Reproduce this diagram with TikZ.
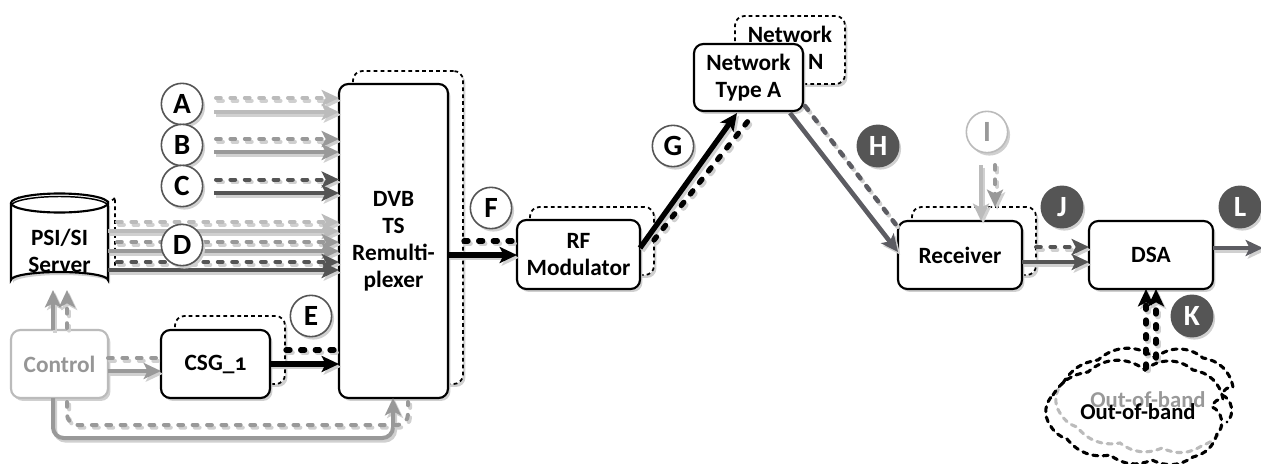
\documentclass[tikz,border=0pt]{standalone}
\usepackage{fontspec}
\setmainfont[Numbers=OldStyle]{Carlito}
\usetikzlibrary{arrows.meta,shadows,calc}
\definecolor{cA}{HTML}{BBBBBB}
\definecolor{cB}{HTML}{999999}
\definecolor{cC}{HTML}{555555}
\definecolor{cH}{HTML}{5C5C62}
\definecolor{shd}{HTML}{D0D0D0}
\tikzset{
  x=0.75pt,y=-0.75pt,
  txt/.style={font=\fontsize{17.5}{20.3}\selectfont\bfseries,align=center},
  sh/.style={copy shadow={shadow xshift=1.8pt,shadow yshift=-2.2pt,draw=none,fill=shd}},
  frontbox/.style={draw=black,line width=1.6pt,rounded corners=7pt,fill=white,sh,inner sep=0pt,outer sep=0pt,txt},
  backbox/.style={draw=black,line width=1.3pt,dash pattern=on 2.8pt off 2.4pt,rounded corners=7pt,fill=white,sh,inner sep=0pt,outer sep=0pt,txt},
  ctrlbox/.style={frontbox,draw=cA,text=cA!80!black},
  lab/.style={circle,draw=cC,line width=1.2pt,fill=white,minimum size=31pt,inner sep=0pt,sh,font=\fontsize{22}{22}\selectfont\bfseries},
  labdark/.style={lab,fill=cC,text=white},
  labgray/.style={lab,draw=cA,text=cB},
  tip/.style={-{Stealth[length=13pt,width=12pt,inset=3pt]}},
  sol/.style={line width=3pt,tip},
  das/.style={line width=3pt,tip,line cap=round,dash pattern=on 3.6pt off 7.2pt},
  dasn/.style={line width=3pt,line cap=round,dash pattern=on 3.6pt off 7.2pt},
  heavy/.style={line width=4pt},
  heavyd/.style={line width=4pt,line cap=round,dash pattern=on 3pt off 8pt},
  shad/.style={draw=shd,transform canvas={xshift=1.6pt,yshift=-2pt}}
}
\newcommand{\bx}[7]{\node[#6,minimum width={(#4-#2)*0.75pt},minimum height={(#5-#3)*0.75pt}] (#1) at ({(#2+#4)/2},{(#3+#5)/2}) {#7};}
\newcommand{\conn}[2]{\draw[#1,shad] #2; \draw[#1] #2;}
\begin{document}
\begin{tikzpicture}
\useasboundingbox (0,0) rectangle (1261,464);
\clip (0,0) rectangle (1261,464);
% back boxes
\bx{dvbb}{353}{71}{463}{384}{backbox}{}
\bx{csgb}{175}{316}{285}{384}{backbox}{}
\bx{rfb}{530}{207}{654}{275}{backbox}{}
\bx{netb}{735}{16}{845}{84}{backbox}{Network\\Type N}
\bx{recb}{912}{207}{1036}{275}{backbox}{}
% cylinder back
\draw[black,line width=1.3pt,dash pattern=on 2.8pt off 2.4pt]
  (18,197) arc[start angle=180,end angle=0,x radius=48.5,y radius=9.5] -- (115,272);
% cylinder front
\fill[shd] (13,206) -- (13,283) arc[start angle=180,end angle=360,x radius=48.5,y radius=8] -- (110,206) -- cycle;
\draw[black,line width=1.6pt,fill=white]
  (11,203) -- (11,280) arc[start angle=180,end angle=360,x radius=48.5,y radius=8] -- (108,203);
\draw[black,line width=1.6pt,fill=white] (59.5,203) ellipse[x radius=48.5,y radius=9.5];
\draw[black,line width=1.1pt] (11,206) arc[start angle=180,end angle=360,x radius=48.5,y radius=9.5];
\node[txt,minimum width=72.75pt,minimum height=52pt,inner sep=0pt,outer sep=0pt] (psi) at (59.5,251) {PSI/SI\\Server};
% front boxes
\bx{dvb}{339}{84}{448}{398}{frontbox}{DVB\\TS\\Remulti-\\plexer}
\bx{ctl}{11}{330}{108}{398}{ctrlbox}{Control}
\bx{csg}{161}{330}{270}{398}{frontbox}{CSG\_1}
\bx{rf}{517}{220}{640}{289}{frontbox}{RF\\Modulator}
\bx{neta}{694}{44}{803}{111}{frontbox}{Network\\Type A}
\bx{rec}{898}{221}{1022}{289}{frontbox}{Receiver}
\bx{dsa}{1089}{221}{1213}{289}{frontbox}{DSA}
% free ends
\coordinate (Ad) at (216,98); \coordinate (As) at (214,112);
\coordinate (Bd) at (216,139); \coordinate (Bs) at (214,152);
\coordinate (Cd) at (216,179.5); \coordinate (Cs) at (214,193);
\coordinate (Dad) at (117,222); \coordinate (Das) at (108,231);
\coordinate (Dbd) at (117,242); \coordinate (Dbs) at (108,251);
\coordinate (Dcd) at (117,262); \coordinate (Dcs) at (108,270);
\coordinate (Id) at (995,165); \coordinate (Is) at (981,165);
\coordinate (Lend) at (1263,248);
\coordinate (Kl) at (1146,368); \coordinate (Kr) at (1156,358);
% connectors
\conn{das,draw=cA}{(Ad) -- (Ad -| dvb.west)}
\conn{sol,draw=cA}{(As) -- (As -| dvb.west)}
\conn{das,draw=cB}{(Bd) -- (Bd -| dvb.west)}
\conn{sol,draw=cB}{(Bs) -- (Bs -| dvb.west)}
\conn{das,draw=cC}{(Cd) -- (Cd -| dvb.west)}
\conn{sol,draw=cC}{(Cs) -- (Cs -| dvb.west)}
\conn{das,draw=cA}{(Dad) -- (Dad -| dvb.west)}
\conn{sol,draw=cA}{(Das) -- (Das -| dvb.west)}
\conn{das,draw=cB}{(Dbd) -- (Dbd -| dvb.west)}
\conn{sol,draw=cB}{(Dbs) -- (Dbs -| dvb.west)}
\conn{das,draw=cC}{(Dcd) -- (Dcd -| dvb.west)}
\conn{sol,draw=cC}{(Dcs) -- (Dcs -| dvb.west)}
% control
\conn{sol,draw=cB}{(53,330) -- (53,290)}
\conn{das,draw=cB}{(67,328) -- (67,290)}
\conn{dasn,draw=cB}{(ctl.east |- 0,358) -- (csg.west |- 0,358)}
\conn{sol,draw=cB}{(ctl.east |- 0,371) -- (csg.west |- 0,371)}
\conn{sol,draw=cB,rounded corners=8pt}{(53,398) -- (53,438) -- (393,438) -- (393,398)}
\conn{dasn,draw=cB,rounded corners=8pt}{(67,402) -- (67,425) -- (408,425) -- (408,402)}
% black
\conn{heavyd,draw=black}{(286,350) -- (dvb.west |- 0,350)}
\conn{sol,draw=black,heavy}{(csg.east |- 0,364) -- (dvb.west |- 0,364)}
\conn{heavyd,draw=black}{(464,241) -- (rf.west |- 0,241)}
\conn{sol,draw=black,heavy}{(dvb.east |- 0,255) -- (rf.west |- 0,255)}
\conn{sol,draw=black,heavy}{(640,248) -- (737,113)}
\conn{heavyd,draw=black}{(654,240) -- (752,116)}
\conn{sol,draw=cH,line width=3.4pt}{(790,113) -- (898,252)}
\conn{dasn,draw=cH,line width=3.4pt}{(805,106) -- (900,230)}
\conn{sol,draw=cA}{(Is) -- (Is |- rec.north)}
\conn{das,draw=cB}{(Id) -- (Id |- recb.north)}
\conn{das,draw=cC}{(recb.east |- 0,247) -- (dsa.west |- 0,247)}
\conn{sol,draw=cC}{(rec.east |- 0,262) -- (dsa.west |- 0,262)}
\conn{sol,draw=cH}{(dsa.east |- Lend) -- (Lend)}
\conn{heavyd,draw=black,tip}{(Kl) -- (Kl |- dsa.south)}
\conn{heavyd,draw=black,tip}{(Kr) -- (Kr |- dsa.south)}
% clouds
\begin{scope}[line width=2.3pt,dash pattern=on 3.8pt off 4pt,line cap=round]
  \draw[cA] (1222,425) to[bend left=30] (1203,445) to[bend left=30] (1162,448) to[bend left=30] (1120,443) to[bend left=30] (1077,427) to[bend left=20] (1060,413) to[bend left=40] (1063,383);
  \draw[black] (1063,383) to[bend left=25] (1098,360) to[bend left=40] (1155,358) to[bend left=40] (1203,358) to[bend left=35] (1233,387) to[bend right=40] (1222,395) to[bend left=60] (1227,422);
  \draw[black] (1053,395) to[bend left=25] (1088,372) to[bend left=40] (1145,370) to[bend left=40] (1193,370) to[bend left=35] (1223,399) to[bend right=40] (1212,407) to[bend left=60] (1217,434) to[bend left=30] (1193,457) to[bend left=30] (1152,460) to[bend left=30] (1110,455) to[bend left=30] (1067,439) to[bend left=20] (1050,425) to[bend left=40] cycle;
\end{scope}
\node[font=\fontsize{17}{17}\selectfont\bfseries,text=cB] (oobb) at (1148,400) {Out-of-band};
\node[font=\fontsize{17}{17}\selectfont\bfseries,text=black] (oobf) at (1138,412) {Out-of-band};
% labels
\node[lab] (a) at (182,104) {A};
\node[lab] (b) at (182,145) {B};
\node[lab] (c) at (182,186) {C};
\node[lab] (d) at (182,245) {D};
\node[lab] (e) at (311,316) {E};
\node[lab] (f) at (491,208) {F};
\node[lab] (g) at (673,146) {G};
\node[labdark] (h) at (878,146) {H};
\node[labgray] (i) at (987,132) {I};
\node[labdark] (j) at (1062,207) {J};
\node[labdark] (k) at (1192,316) {K};
\node[labdark] (l) at (1240,207) {L};
\end{tikzpicture}
\end{document}
